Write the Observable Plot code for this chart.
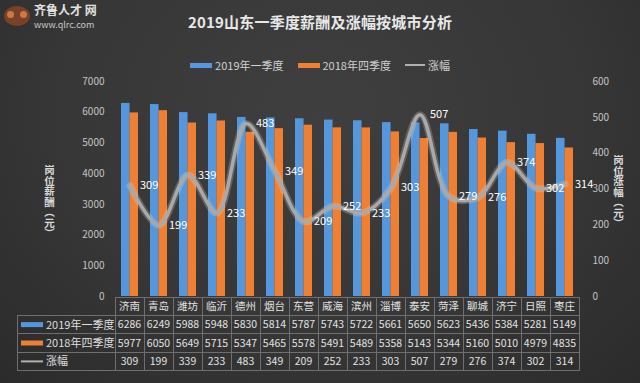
<!DOCTYPE html>
<html><head><meta charset="utf-8">
<script src="https://cdn.jsdelivr.net/npm/d3@7"></script>
<script src="https://cdn.jsdelivr.net/npm/@observablehq/plot@0.6"></script>
<style>
html,body{margin:0;padding:0;}
body{width:640px;height:383px;overflow:hidden;background:radial-gradient(ellipse at 50% 30%, #3f3f3f 0%, #373737 55%, #2b2b2b 100%);font-family:"Noto Sans CJK SC","Noto Sans",sans-serif;}
#wrap{position:relative;width:640px;height:383px;}
#chart{position:absolute;left:0;top:0;}
.title{position:absolute;top:11px;left:0;width:640px;text-align:center;font-size:15px;font-weight:bold;color:#e8e8e8;letter-spacing:0.2px;}
.legend{position:absolute;top:57px;left:0;width:640px;display:flex;justify-content:center;align-items:center;font-size:11px;color:#d0d0d0;gap:0;}
.legend .item{display:flex;align-items:center;margin:0 7px;}
.legend .sw{width:22px;height:5px;margin-right:3px;}
.legend .ln{width:20px;height:2px;margin-right:3px;background:#b0b0b0;}
.vt{position:absolute;writing-mode:vertical-rl;text-orientation:mixed;font-size:10.5px;font-weight:bold;color:#d8d8d8;line-height:11px;}
.logo{position:absolute;left:4px;top:2px;display:flex;align-items:center;}
.frog{width:26px;height:20px;border-radius:50%;background:#7a4126;position:relative;margin-right:4px;}
.frog:before,.frog:after{content:"";position:absolute;top:5px;width:7px;height:7px;border-radius:50%;background:#c9794a;}
.frog:before{left:3px;} .frog:after{right:3px;}
.logo .t1{font-size:12px;font-weight:bold;color:#e0e0e0;line-height:15px;}
.logo .t2{font-size:9px;color:#c8c8c8;line-height:11px;margin-top:2px;}
</style></head>
<body><div id="wrap">
<div class="logo"><div class="frog"></div><div><div class="t1">齐鲁人才 网</div><div class="t2">www.qlrc.com</div></div></div>
<div class="title">2019山东一季度薪酬及涨幅按城市分析</div>
<div class="legend" id="legend"></div>
<div class="vt" id="vl" style="left:44px;top:165px;"></div>
<div class="vt" id="vr" style="left:613px;top:155px;"></div>
</div>
<script>
const cities = ["济南","青岛","潍坊","临沂","德州","烟台","东营","威海","滨州","淄博","泰安","菏泽","聊城","济宁","日照","枣庄"];
const q1_2019 = [6286,6249,5988,5948,5830,5814,5787,5743,5722,5661,5650,5623,5436,5384,5281,5149];
const q4_2018 = [5977,6050,5649,5715,5347,5465,5578,5491,5489,5358,5143,5344,5160,5010,4979,4835];
const rise = [309,199,339,233,483,349,209,252,233,303,507,279,276,374,302,314];
const leftTicks = [0,1000,2000,3000,4000,5000,6000,7000];
const rightTicks = [0,100,200,300,400,500,600];
const seriesNames = ["2019年一季度","2018年四季度","涨幅"];
const axisTitles = ["岗位薪酬（元）","岗位涨幅（元）"];
const blue = "#5497dc", orange = "#ef7f33", gray = "#a9a9a9";

(function(){
const k = 7000/600;
const data = cities.map((c,i)=>({city:c, a:q1_2019[i], b:q4_2018[i], r:rise[i], ry:rise[i]*k}));

const lg = document.getElementById("legend");
lg.innerHTML = `<div class="item"><div class="sw" style="background:${blue}"></div>${seriesNames[0]}</div>`+
 `<div class="item"><div class="sw" style="background:${orange}"></div>${seriesNames[1]}</div>`+
 `<div class="item"><div class="ln"></div>${seriesNames[2]}</div>`;
document.getElementById("vl").textContent = axisTitles[0];
document.getElementById("vr").textContent = axisTitles[1];

const half = 8.45;
const chart = Plot.plot({
  width:640, height:383,
  marginLeft:114, marginRight:60, marginTop:81, marginBottom:87,
  style:{background:"transparent", color:"#c8c8c8", fontFamily:"'Noto Sans CJK SC','Noto Sans',sans-serif", fontSize:"10px", overflow:"visible"},
  x:{domain:cities, paddingInner:0.42, paddingOuter:0.21, axis:null},
  y:{domain:[0,7000], axis:null},
  marks:[
    Plot.axisY(leftTicks,{anchor:"left", tickSize:0, tickPadding:10, label:null, tickFormat:d=>String(d), fill:"#c4c4c4"}),
    Plot.axisY(rightTicks.map(v=>v*k),{anchor:"right", tickSize:0, tickPadding:12, label:null, tickFormat:d=>String(Math.round(d/k)), fill:"#c4c4c4"}),
    Plot.barY(data,{x:"city", y:"a", fill:blue, insetRight:half}),
    Plot.barY(data,{x:"city", y:"b", fill:orange, insetLeft:half}),
    Plot.line(data,{x:"city", y:"ry", stroke:"#e6e6e6", strokeWidth:7, strokeOpacity:0.22, curve:"catmull-rom"}),
    Plot.line(data,{x:"city", y:"ry", stroke:gray, strokeWidth:3.5, curve:"catmull-rom"}),
    Plot.text(data,{x:"city", y:"ry", text:"r", dx:10, textAnchor:"start", fill:"#ffffff", fontSize:11})
  ]
});
chart.id = "chart";
document.getElementById("wrap").prepend(chart);

const sx = chart.scale("x"), sy = chart.scale("y");
const step = sx.step, bw = sx.bandwidth;
const cx = c => sx.apply(c) + bw/2;
const x0 = cx(cities[0]) - step/2, x1 = cx(cities[cities.length-1]) + step/2;
const ty = sy.apply(0) + 1, rh = 18.4, lx = 17;
const svg = d3.select(chart);
const g = svg.append("g").attr("stroke","#6f6f6f").attr("stroke-width",1).attr("shape-rendering","crispEdges");
g.append("line").attr("x1",x0).attr("x2",x1).attr("y1",ty).attr("y2",ty);
for (let r=1;r<=4;r++) g.append("line").attr("x1",lx).attr("x2",x1).attr("y1",ty+rh*r).attr("y2",ty+rh*r);
g.append("line").attr("x1",lx).attr("x2",lx).attr("y1",ty+rh).attr("y2",ty+rh*4);
cities.forEach(c=>g.append("line").attr("x1",cx(c)-step/2).attr("x2",cx(c)-step/2).attr("y1",ty).attr("y2",ty+rh*4));
g.append("line").attr("x1",x1).attr("x2",x1).attr("y1",ty).attr("y2",ty+rh*4);
const t = svg.append("g").attr("font-size",10.5).attr("fill","#e2e2e2").attr("text-anchor","middle").attr("font-family","'Noto Sans CJK SC','Noto Sans',sans-serif");
const rows = [cities, q1_2019, q4_2018, rise];
rows.forEach((row,r)=>row.forEach((v,i)=>{
  t.append("text").attr("x",cx(cities[i])).attr("y",ty+rh*r+rh/2).attr("dy","0.36em").text(v);
}));
const lab = svg.append("g").attr("font-size",11).attr("fill","#dedede").attr("text-anchor","start").attr("font-family","'Noto Sans CJK SC','Noto Sans',sans-serif");
[blue, orange, null].forEach((col,r)=>{
  const yc = ty+rh*(r+1)+rh/2;
  if (col) lab.append("rect").attr("x",21).attr("y",yc-2.5).attr("width",22).attr("height",5).attr("fill",col);
  else lab.append("rect").attr("x",21).attr("y",yc-1).attr("width",22).attr("height",2).attr("fill","#b0b0b0");
  lab.append("text").attr("x",46).attr("y",yc).attr("dy","0.36em").text(seriesNames[r]);
});
})();
</script>
</body></html>
